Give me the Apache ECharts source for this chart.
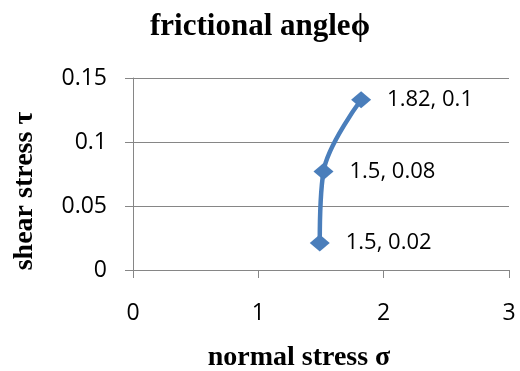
<!DOCTYPE html>
<html>
<head>
<meta charset="utf-8">
<script src="https://cdn.jsdelivr.net/npm/echarts@6/dist/echarts.min.js"></script>
<style>
  html, body { margin: 0; padding: 0; background: #fff; }
  #chart { width: 520px; height: 371px; }
</style>
</head>
<body>
<div id="chart"></div>
<script>
// Shear test points: normal stress σ vs shear stress τ
const normalStress = [1.49, 1.52, 1.82];
const shearStress = [0.021, 0.077, 0.133];
const pointLabels = ['1.5, 0.02', '1.5, 0.08', '1.82, 0.1'];

const titleText = 'frictional angleϕ';
const xAxisName = 'normal stress σ';
const yAxisName = 'shear stress τ';

const serif = '"Liberation Serif", "DejaVu Serif", serif';
const sans = '"Open Sans", "Liberation Sans", sans-serif';
const gray = '#868686';
const blue = '#4a7ebb';

const chart = echarts.init(document.getElementById('chart'));
chart.setOption({
  animation: false,
  backgroundColor: '#ffffff',
  title: {
    text: titleText,
    left: 'center',
    top: 11,
    padding: 0,
    textStyle: { fontFamily: serif, fontWeight: 'bold', fontSize: 31, color: '#000' }
  },
  // axis titles placed as free text
  graphic: [
    {
      type: 'text',
      x: 299, y: 358,
      style: {
        text: xAxisName, fontFamily: serif, fontWeight: 'bold', fontSize: 28,
        fill: '#000', align: 'center', verticalAlign: 'middle'
      }
    },
    {
      type: 'text',
      x: 25, y: 191,
      rotation: Math.PI / 2,
      style: {
        text: yAxisName, fontFamily: serif, fontWeight: 'bold', fontSize: 28,
        fill: '#000', align: 'center', verticalAlign: 'middle'
      }
    }
  ],
  grid: { left: 133, right: 11, top: 78, bottom: 101 },
  xAxis: {
    type: 'value',
    min: 0, max: 3, interval: 1,
    axisLine: { show: true, onZero: false, lineStyle: { color: gray, width: 1 } },
    axisTick: { show: true, inside: false, length: 8, lineStyle: { color: gray } },
    axisLabel: { fontFamily: sans, fontSize: 23, color: '#000', margin: 32 },
    splitLine: { show: false }
  },
  yAxis: {
    type: 'value',
    min: 0, max: 0.15, interval: 0.05,
    axisLine: { show: true, lineStyle: { color: gray, width: 1 } },
    axisTick: { show: true, inside: false, length: 8, lineStyle: { color: gray } },
    axisLabel: { fontFamily: sans, fontSize: 23, color: '#000', margin: 26 },
    splitLine: { show: true, lineStyle: { color: gray, width: 1 } }
  },
  series: [{
    type: 'line',
    smooth: 0.35,
    data: normalStress.map((x, i) => [x, shearStress[i]]),
    symbol: 'diamond',
    symbolSize: [20, 17],
    itemStyle: { color: blue },
    lineStyle: { color: blue, width: 4.5 },
    label: {
      show: true,
      position: 'right',
      distance: 16,
      fontFamily: sans,
      fontSize: 22,
      color: '#000',
      formatter: p => pointLabels[p.dataIndex]
    }
  }]
});
</script>
</body>
</html>
